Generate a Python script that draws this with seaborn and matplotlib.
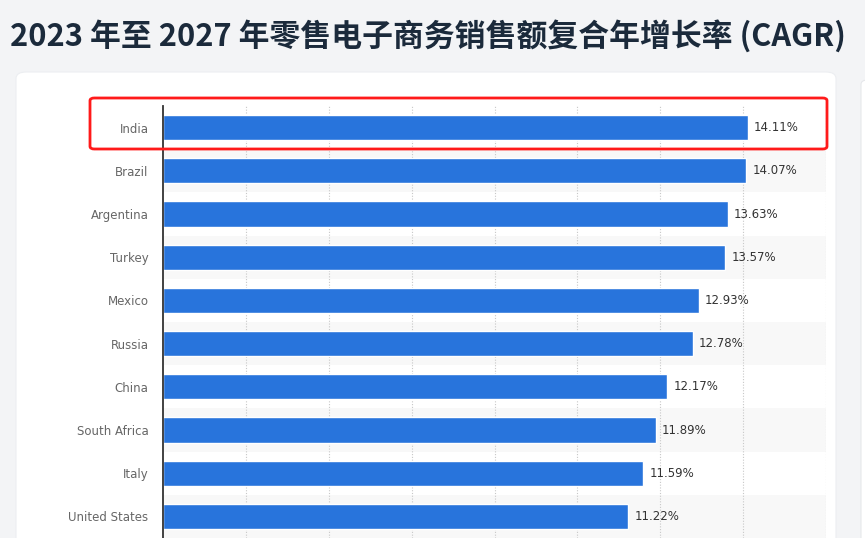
import matplotlib
matplotlib.use("Agg")
import matplotlib.pyplot as plt
from matplotlib.patches import FancyBboxPatch
import seaborn as sns
import pandas as pd

# Data
countries = ["India", "Brazil", "Argentina", "Turkey", "Mexico", "Russia",
             "China", "South Africa", "Italy", "United States"]
cagr = [14.11, 14.07, 13.63, 13.57, 12.93, 12.78, 12.17, 11.89, 11.59, 11.22]
value_labels = ["14.11%", "14.07%", "13.63%", "13.57%", "12.93%", "12.78%",
                "12.17%", "11.89%", "11.59%", "11.22%"]
title = "2023 年至 2027 年零售电子商务销售额复合年增长率 (CAGR)"

df = pd.DataFrame({"country": countries, "cagr": cagr})

sns.set_theme(style="white")
plt.rcParams["font.family"] = ["DejaVu Sans", "Noto Sans CJK SC"]

W, H = 865, 538
fig = plt.figure(figsize=(W / 100, H / 100), dpi=100)
fig.patch.set_facecolor("#f3f4f6")

def px(x, y, w, h):
    # figure pixel box (top-left origin) -> figure fraction
    return (x / W, 1 - (y + h) / H, w / W, h / H)

# White cards behind the chart
bx = px(16, 72, 820, 500)
fig.patches.append(FancyBboxPatch((bx[0], bx[1]), bx[2], bx[3],
                                  boxstyle="round,pad=0,rounding_size=0.012",
                                  transform=fig.transFigure, facecolor="white",
                                  edgecolor="#eceef1", linewidth=0.8, zorder=-5))
bx = px(861, 80, 30, 500)
fig.patches.append(FancyBboxPatch((bx[0], bx[1]), bx[2], bx[3],
                                  boxstyle="round,pad=0,rounding_size=0.008",
                                  transform=fig.transFigure, facecolor="white",
                                  edgecolor="#e6e8eb", linewidth=0.8, zorder=-5))

# Title
fig.text(10 / W, 1 - 46 / H, title, fontsize=22.2, fontweight="bold",
         color="#1b2a3b", family=["Noto Sans CJK SC", "DejaVu Sans"])

ax = fig.add_axes(px(163, 106, 663, 432))
ax.set_facecolor("none")

# Alternating row bands
for i in range(len(countries)):
    if i % 2 == 1:
        ax.axhspan(i - 0.5, i + 0.5, color="#f8f8f8", zorder=0, lw=0)

sns.barplot(data=df, x="cagr", y="country", color="#2874dc", saturation=1,
            width=0.58, ax=ax, zorder=3)

ax.set_xlim(0, 16)
ax.set_ylim(len(countries) - 0.5, -0.5)
ax.set_xticks(range(2, 17, 2))
ax.xaxis.grid(True, linestyle=(0, (1, 1.5)), color="#c8c8c8", linewidth=0.8)
ax.set_axisbelow(True)
ax.tick_params(axis="x", bottom=False, labelbottom=False)
ax.tick_params(axis="y", left=False, pad=4.5, labelsize=8.5, labelcolor="#666666")
ax.set_xlabel("")
ax.set_ylabel("")
for s in ["top", "right", "bottom"]:
    ax.spines[s].set_visible(False)
ax.spines["left"].set_color("#333333")
ax.spines["left"].set_linewidth(1.3)
ax.spines["left"].set_zorder(5)

ax.bar_label(ax.containers[0], labels=value_labels, padding=4.5,
             fontsize=8.5, color="#333333")

# Red highlight box around India
bx = px(90, 98, 737, 51)
fig.patches.append(FancyBboxPatch((bx[0], bx[1]), bx[2], bx[3],
                                  boxstyle="round,pad=0,rounding_size=0.005",
                                  transform=fig.transFigure, facecolor="none",
                                  edgecolor="#ff1a1a", linewidth=2, zorder=10))

fig.savefig("out.png", dpi=100, facecolor=fig.get_facecolor())
